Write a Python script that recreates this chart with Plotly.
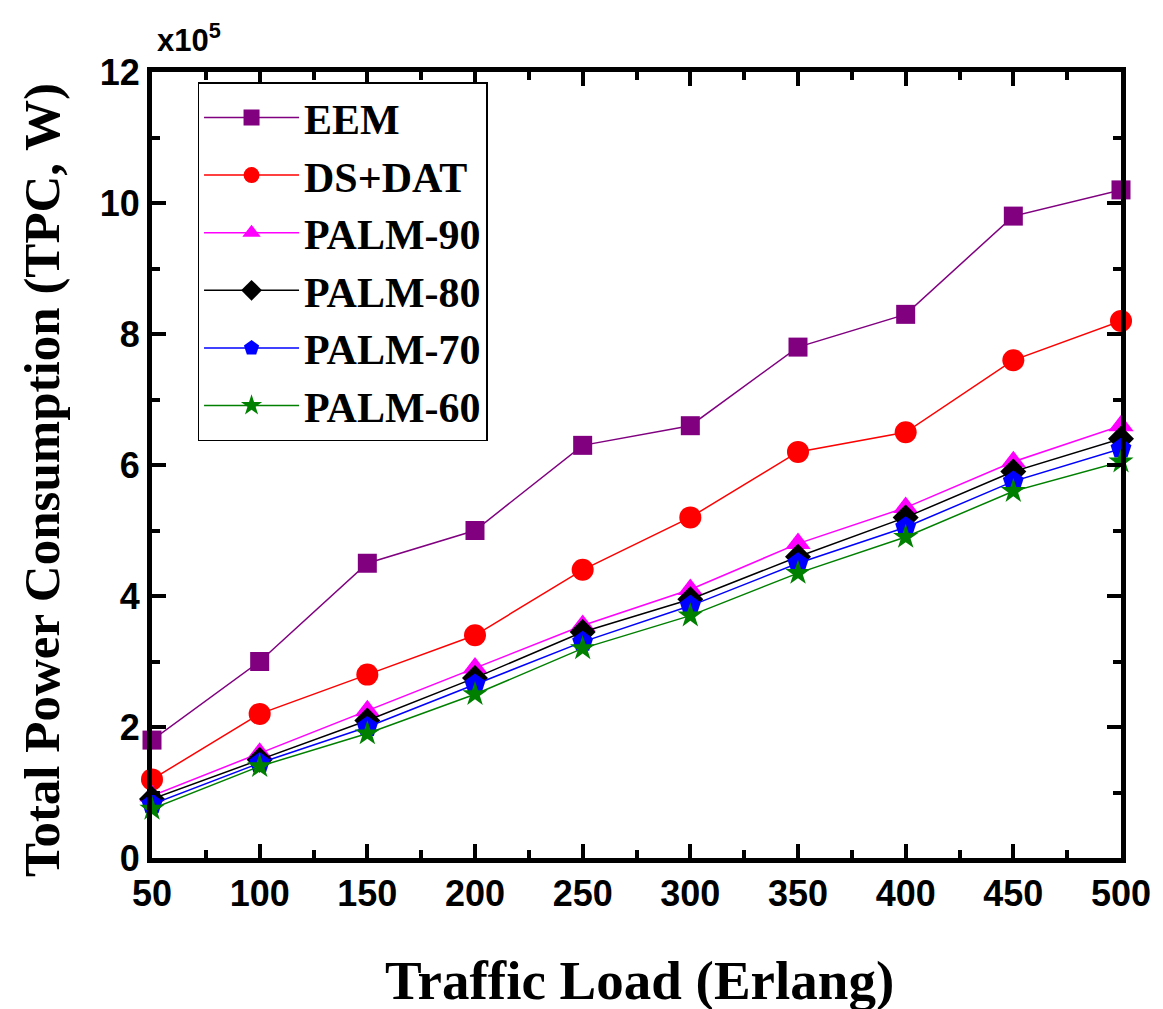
import plotly.graph_objects as go

traffic = [50, 100, 150, 200, 250, 300, 350, 400, 450, 500]
# Total power consumption in units of 10^5 W
eem = [1.8, 3.0, 4.5, 5.0, 6.3, 6.6, 7.8, 8.3, 9.8, 10.2]
ds_dat = [1.2, 2.2, 2.8, 3.4, 4.4, 5.2, 6.2, 6.5, 7.6, 8.2]
palm90 = [0.95, 1.6, 2.25, 2.9, 3.55, 4.1, 4.8, 5.35, 6.05, 6.6]
palm80 = [0.9, 1.5, 2.1, 2.75, 3.45, 3.95, 4.6, 5.2, 5.9, 6.4]
palm70 = [0.82, 1.45, 2.0, 2.65, 3.3, 3.85, 4.5, 5.05, 5.75, 6.25]
palm60 = [0.75, 1.4, 1.9, 2.5, 3.2, 3.7, 4.35, 4.9, 5.6, 6.05]

y_ticks = [0, 2, 4, 6, 8, 10, 12]
x_title = "Traffic Load (Erlang)"
y_title = "Total Power Consumption (TPC, W)"

series = [
    ("EEM", eem, "#800080", "square", 19),
    ("DS+DAT", ds_dat, "#ff0000", "circle", 22),
    ("PALM-90", palm90, "#ff00ff", "triangle-up", 22),
    ("PALM-80", palm80, "#000000", "diamond", 20),
    ("PALM-70", palm70, "#0000ff", "pentagon", 22),
    ("PALM-60", palm60, "#008000", "star", 19),
]

fig = go.Figure()
for name, vals, color, sym, size in series:
    fig.add_trace(go.Scatter(
        x=traffic, y=vals, name=name, mode="lines+markers",
        line=dict(color=color, width=1.5),
        marker=dict(symbol=sym, size=size, color=color, line=dict(width=0)),
        cliponaxis=False,
    ))

tickfont = dict(family="Liberation Sans, Arial", size=36, color="black", weight="bold")
axis_common = dict(
    showgrid=False, zeroline=False, showline=True, linecolor="black", linewidth=5,
    mirror="ticks", ticks="inside", ticklen=14, tickwidth=4, tickcolor="black",
    tickfont=tickfont,
)
serif = "Liberation Serif, Times New Roman"

fig.update_layout(
    width=1163, height=1009,
    margin=dict(l=144, r=50, t=64, b=159),
    paper_bgcolor="white", plot_bgcolor="white",
    showlegend=True,
    legend=dict(
        x=0.047, y=0.987, xanchor="left", yanchor="top",
        bgcolor="white", bordercolor="black", borderwidth=1.5,
        font=dict(family=serif, size=42, color="black", weight="bold"),
        itemwidth=95, tracegroupgap=0,
    ),
    xaxis=dict(
        range=[50, 500], tickvals=traffic, **axis_common,
        minor=dict(ticks="inside", ticklen=8, tickwidth=4, tickcolor="black", dtick=25, tick0=50),
    ),
    yaxis=dict(
        range=[0, 12], tickvals=y_ticks, **axis_common,
        minor=dict(ticks="inside", ticklen=8, tickwidth=4, tickcolor="black", dtick=1, tick0=0),
    ),
    annotations=[
        dict(text="x10<sup>5</sup>", xref="paper", yref="paper", x=0.003, y=1.0,
             xanchor="left", yanchor="bottom", yshift=12, showarrow=False,
             font=dict(family="Liberation Sans, Arial", size=31, color="black", weight="bold")),
        dict(text=x_title, xref="paper", yref="paper", x=0.5026, y=-0.156,
             xanchor="center", yanchor="middle", showarrow=False,
             font=dict(family=serif, size=55, color="black", weight="bold")),
        dict(text=y_title, xref="paper", yref="paper", x=-0.1135, y=0.481,
             xanchor="center", yanchor="middle", textangle=-90, showarrow=False,
             font=dict(family=serif, size=51, color="black", weight="bold")),
    ],
)

fig.write_html("out.html")
